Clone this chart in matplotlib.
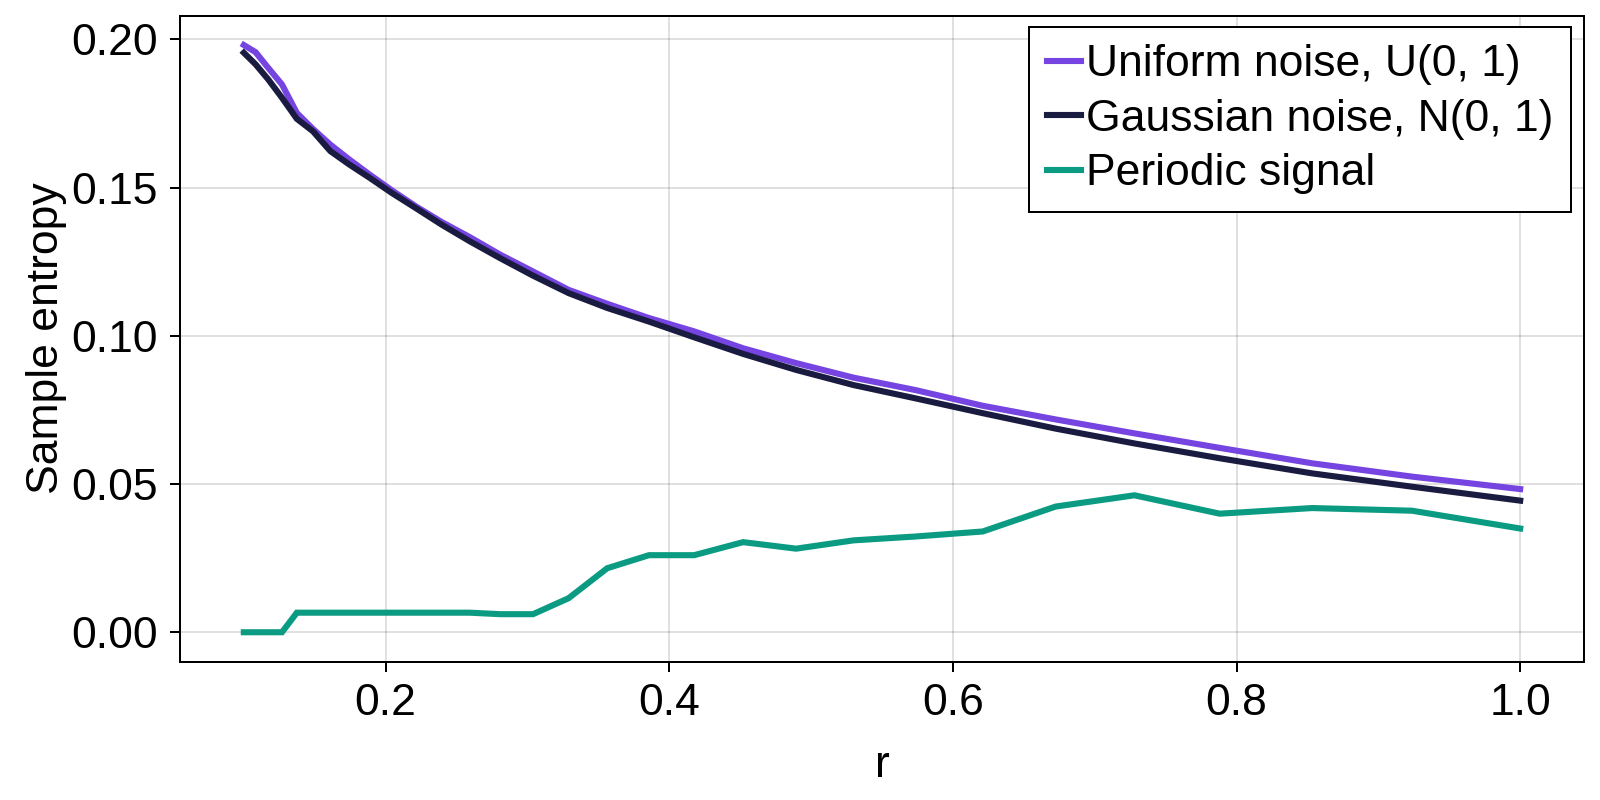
import matplotlib
matplotlib.use("Agg")
import matplotlib.pyplot as plt

# r values (log spaced between 0.1 and 1.0)
r_values = [0.1, 0.10826, 0.11721, 0.12690, 0.13738, 0.14874, 0.16103, 0.17434,
            0.18874, 0.20434, 0.22123, 0.23951, 0.25930, 0.28073, 0.30393,
            0.32905, 0.35625, 0.38569, 0.41756, 0.45207, 0.48943, 0.52987,
            0.57366, 0.62107, 0.67240, 0.72797, 0.78813, 0.85326, 0.92377, 1.0]

uniform_entropy = [0.1981, 0.1957, 0.1904, 0.1848, 0.1752, 0.1698, 0.1645, 0.1595,
                   0.1544, 0.1491, 0.1437, 0.1384, 0.1333, 0.1274, 0.1217, 0.1155,
                   0.1108, 0.1060, 0.1015, 0.0958, 0.0908, 0.0859, 0.0817, 0.0764,
                   0.0718, 0.0671, 0.0622, 0.0570, 0.0525, 0.0483]

gaussian_entropy = [0.1955, 0.1916, 0.1865, 0.1803, 0.1732, 0.1690, 0.1623, 0.1578,
                    0.1533, 0.1482, 0.1431, 0.1375, 0.1319, 0.1262, 0.1203, 0.1144,
                    0.1094, 0.1048, 0.0995, 0.0939, 0.0885, 0.0834, 0.0789, 0.0739,
                    0.0687, 0.0637, 0.0587, 0.0536, 0.0491, 0.0444]

periodic_entropy = [0.0, 0.0, 0.0, 0.0, 0.0066, 0.0066, 0.0066, 0.0066,
                    0.0066, 0.0066, 0.0066, 0.0066, 0.0066, 0.0061, 0.0061, 0.0115,
                    0.0216, 0.0260, 0.0260, 0.0304, 0.0282, 0.0310, 0.0323, 0.0340,
                    0.0424, 0.0462, 0.0400, 0.0419, 0.0410, 0.0350]

labels = ["Uniform noise, U(0, 1)", "Gaussian noise, N(0, 1)", "Periodic signal"]
colors = ["#7544E1", "#191B40", "#0A9B82"]

x_ticks = [0.2, 0.4, 0.6, 0.8, 1.0]
y_ticks = [0.00, 0.05, 0.10, 0.15, 0.20]

plt.rcParams["font.family"] = ["Liberation Sans", "DejaVu Sans"]
plt.rcParams["font.size"] = 32

fig = plt.figure(figsize=(16, 8), dpi=100)
ax = fig.add_axes([0.1125, 0.173, 0.8775, 0.8074])

series = [uniform_entropy, gaussian_entropy, periodic_entropy]
for values, label, color in zip(series, labels, colors):
    ax.plot(r_values, values, color=color, linewidth=4.4, label=label,
            solid_joinstyle="miter")

ax.set_xlim(0.055, 1.045)
ax.set_ylim(-0.0099, 0.2080)
ax.set_xticks(x_ticks)
ax.set_xticklabels(["{:.1f}".format(t) for t in x_ticks])
ax.set_yticks(y_ticks)
ax.set_yticklabels(["{:.2f}".format(t) for t in y_ticks])

ax.grid(True, color="black", alpha=0.12, linewidth=1.44)
ax.set_axisbelow(True)
for spine in ax.spines.values():
    spine.set_linewidth(1.44)
    spine.set_color("black")
ax.tick_params(axis="both", direction="out", length=7.2, width=1.44)
ax.tick_params(axis="x", pad=8)
ax.tick_params(axis="y", pad=9)

ax.set_xlabel("r", labelpad=15)
ax.set_ylabel("Sample entropy", labelpad=3)

legend = ax.legend(loc="upper right", bbox_to_anchor=(1571 / 1600, 1 - 26.7 / 800),
                   bbox_transform=fig.transFigure, borderaxespad=0,
                   fancybox=False, framealpha=1, edgecolor="black",
                   handlelength=0.75, handletextpad=0.12, labelspacing=0.3,
                   borderpad=0.4)
legend.get_frame().set_linewidth(1.44)

plt.savefig("out.png", dpi=100)
